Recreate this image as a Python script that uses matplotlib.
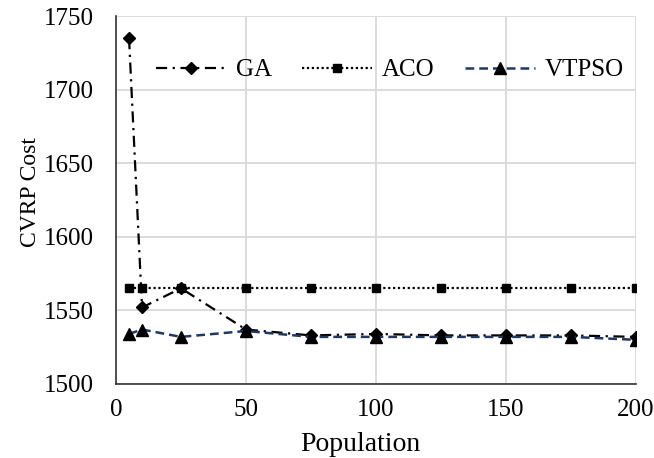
import matplotlib
matplotlib.use("Agg")
import matplotlib.pyplot as plt

# population sizes tested
population = [5, 10, 25, 50, 75, 100, 125, 150, 175, 200]
ga_cost = [1735, 1552, 1565, 1537, 1533, 1534, 1533, 1533, 1533, 1532]
aco_cost = [1565, 1565, 1565, 1565, 1565, 1565, 1565, 1565, 1565, 1565]
vtpso_cost = [1534, 1537, 1532, 1536, 1532, 1532, 1532, 1532, 1532, 1530]

x_ticks = [0, 50, 100, 150, 200]
y_ticks = [1500, 1550, 1600, 1650, 1700, 1750]

plt.rcParams['font.family'] = ['Liberation Serif', 'DejaVu Serif']

fig = plt.figure(figsize=(6.54, 4.58), dpi=100)
ax = fig.add_axes([0.1774, 0.1616, 0.7951, 0.8034])

ax.plot(population, ga_cost, color='black', linewidth=1.6,
        linestyle=(0, (5, 2.5, 1, 2.5)), marker='D', markersize=6,
        label='GA', zorder=3)
ax.plot(population, aco_cost, color='black', linewidth=1.6,
        linestyle=(0, (1, 1.2)), marker='s', markersize=6,
        label='ACO', zorder=3)
ax.plot(population, vtpso_cost, color='#1F3864', linewidth=1.8,
        linestyle=(0, (3.5, 2)), marker='^', markersize=8,
        markerfacecolor='black', markeredgecolor='black',
        label='VTPSO', zorder=4)

ax.set_xlim(0, 200)
ax.set_ylim(1500, 1750)
ax.set_xticks(x_ticks)
ax.set_yticks(y_ticks)
ax.tick_params(axis='both', length=0, labelsize=18)
ax.tick_params(axis='y', pad=16)
ax.tick_params(axis='x', pad=11)

ax.grid(True, color='#D9D9D9', linewidth=1.3)
ax.set_axisbelow(True)
ax.spines['top'].set_visible(False)
ax.spines['right'].set_visible(False)
ax.spines['left'].set_color('#333333')
ax.spines['bottom'].set_color('#333333')
ax.spines['left'].set_linewidth(1.2)
ax.spines['bottom'].set_linewidth(1.2)

ax.set_xlabel('Population', fontsize=20, labelpad=8)
ax.set_ylabel('CVRP Cost', fontsize=17, labelpad=2)
ax.xaxis.label.set_x(0.469)
ax.yaxis.label.set_y(0.522)

ax.legend(loc='center', bbox_to_anchor=(0.527, 0.853), ncol=3,
          frameon=False, fontsize=18, handlelength=2.8,
          handletextpad=0.4, columnspacing=1.2)

fig.savefig('out.png', dpi=100)
